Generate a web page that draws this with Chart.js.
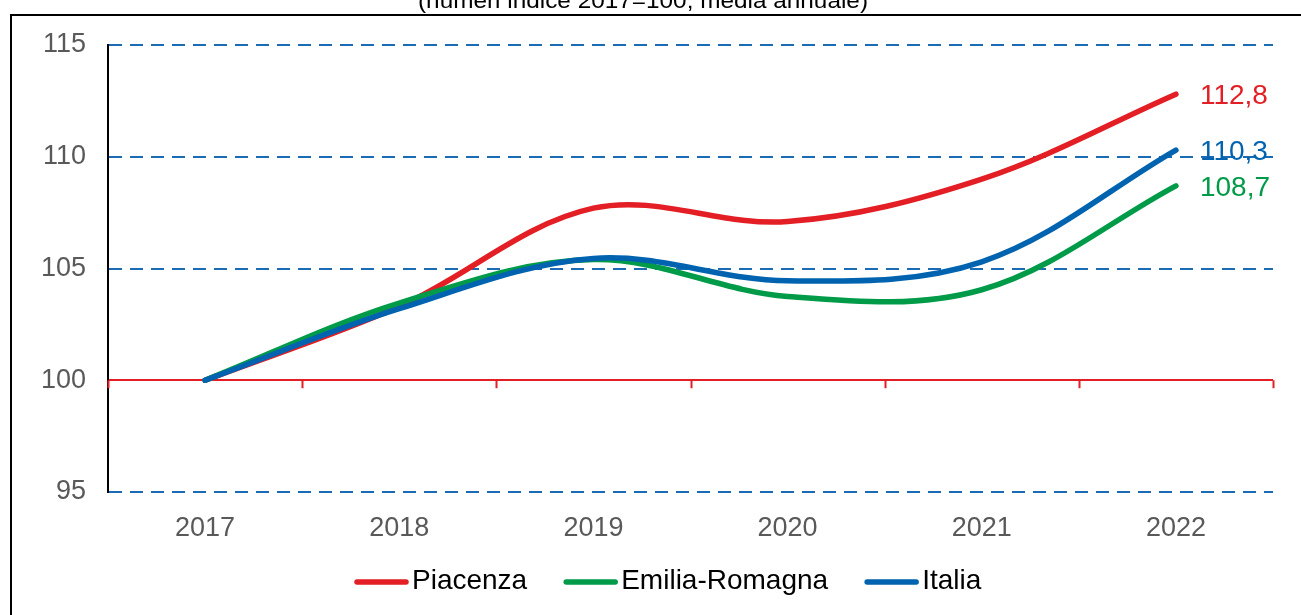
<!DOCTYPE html>
<html>
<head>
<meta charset="utf-8">
<script src="https://cdn.jsdelivr.net/npm/chart.js@4.4.0/dist/chart.umd.min.js"></script>
<style>
  html, body { margin: 0; padding: 0; background: #fff; overflow: hidden; }
  #wrap { position: relative; width: 1301px; height: 615px; }
  #frame { position: absolute; left: 10px; top: 14px; width: 1400px; height: 700px;
           border-left: 2px solid #000; border-top: 2px solid #000; }
  canvas { position: absolute; left: 0; top: 0; }
</style>
</head>
<body>
<div id="wrap">
  <div id="frame"></div>
  <canvas id="chart" width="1301" height="615"></canvas>
</div>
<script>
// dati del grafico
const anni = ['2017', '2018', '2019', '2020', '2021', '2022'];
const piacenza = [100, 103.3, 107.7, 107.1, 109.0, 112.8];
const emiliaRomagna = [100, 103.45, 105.4, 103.75, 104.05, 108.7];
const italia = [100, 103.2, 105.45, 104.45, 105.3, 110.3];
const yTicks = [95, 100, 105, 110, 115];
const titolo = '(numeri indice 2017=100; media annuale)';

const ROSSO = '#E31E24';
const VERDE = '#009B48';
const BLU = '#0063AF';
const GRIGLIA = '#1A6AB4';

Chart.defaults.font.family = "'Liberation Sans', Arial, sans-serif";

const fmt = v => v.toFixed(1).replace('.', ',');

// linea rossa a quota 100 con le tacche tra le categorie
const asse100 = {
  id: 'asse100',
  beforeDatasetsDraw(chart) {
    const { ctx, chartArea } = chart;
    const x = chart.scales.x, y = chart.scales.y;
    const y100 = y.getPixelForValue(100);
    const bordi = [chartArea.left];
    for (let i = 0; i < anni.length - 1; i++) {
      bordi.push((x.getPixelForValue(i) + x.getPixelForValue(i + 1)) / 2);
    }
    bordi.push(chartArea.right);
    ctx.save();
    ctx.strokeStyle = ROSSO;
    ctx.lineWidth = 2;
    bordi.forEach(b => {
      ctx.beginPath();
      ctx.moveTo(Math.round(b) + 0.5, y100);
      ctx.lineTo(Math.round(b) + 0.5, y100 + 8);
      ctx.stroke();
    });
    ctx.restore();
  }
};

// etichette del valore finale
const etichette = {
  id: 'etichette',
  afterDatasetsDraw(chart) {
    const { ctx } = chart;
    ctx.save();
    ctx.font = "28px 'Liberation Sans', Arial, sans-serif";
    ctx.textBaseline = 'middle';
    ctx.textAlign = 'left';
    chart.data.datasets.forEach((ds, i) => {
      const pts = chart.getDatasetMeta(i).data;
      const p = pts[pts.length - 1];
      ctx.fillStyle = ds.borderColor;
      ctx.fillText(fmt(ds.data[ds.data.length - 1]), p.x + 24, p.y + 2);
    });
    ctx.restore();
  }
};

// legenda e titolo (tagliato in alto)
const legenda = {
  id: 'legenda',
  afterDraw(chart) {
    const { ctx } = chart;
    ctx.save();
    ctx.font = "28px 'Liberation Sans', Arial, sans-serif";
    ctx.textBaseline = 'middle';
    let x = 354;
    const y = 581;
    chart.data.datasets.forEach(ds => {
      ctx.strokeStyle = ds.borderColor;
      ctx.lineWidth = 5.5;
      ctx.lineCap = 'round';
      ctx.beginPath();
      ctx.moveTo(x + 3, y + 1);
      ctx.lineTo(x + 52, y + 1);
      ctx.stroke();
      ctx.fillStyle = '#000';
      ctx.fillText(ds.label, x + 58, y);
      x += 58 + ctx.measureText(ds.label).width + 36;
    });

    ctx.font = "22px 'Liberation Sans', Arial, sans-serif";
    ctx.fillStyle = '#000';
    ctx.textBaseline = 'alphabetic';
    const w = ctx.measureText(titolo).width;
    const sx = 450 / w;
    ctx.translate(418, 8);
    ctx.scale(sx, 1);
    ctx.fillText(titolo, 0, 0);
    ctx.restore();
  }
};

new Chart(document.getElementById('chart'), {
  type: 'line',
  data: {
    labels: anni,
    datasets: [
      { label: 'Piacenza', data: piacenza, borderColor: ROSSO, order: 2 },
      { label: 'Emilia-Romagna', data: emiliaRomagna, borderColor: VERDE, order: 1 },
      { label: 'Italia', data: italia, borderColor: BLU, order: 0 }
    ]
  },
  options: {
    responsive: false,
    animation: false,
    layout: { padding: { left: 10, right: 28, top: 45, bottom: 63 } },
    elements: {
      line: { borderWidth: 5.5, tension: 0.35, borderCapStyle: 'round', borderJoinStyle: 'round', fill: false },
      point: { radius: 0, hoverRadius: 0 }
    },
    plugins: {
      legend: { display: false },
      tooltip: { enabled: false }
    },
    scales: {
      x: {
        offset: true,
        grid: { display: false },
        border: { display: false },
        ticks: { color: '#595959', font: { size: 27 }, padding: 12, maxRotation: 0 },
        afterFit: s => { s.height = 60; }
      },
      y: {
        min: 95,
        max: 115,
        afterBuildTicks: s => { s.ticks = yTicks.map(v => ({ value: v })); },
        grid: {
          drawTicks: false,
          lineWidth: 2,
          color: c => (c.tick && c.tick.value === 100 ? ROSSO : GRIGLIA)
        },
        border: {
          display: true,
          color: '#000',
          width: 2,
          dash: c => (c.tick && c.tick.value !== 100 ? [13, 8] : [])
        },
        ticks: { color: '#595959', font: { size: 27 }, padding: 22 },
        afterFit: s => { s.width = 98; }
      }
    }
  },
  plugins: [asse100, etichette, legenda]
});
</script>
</body>
</html>
